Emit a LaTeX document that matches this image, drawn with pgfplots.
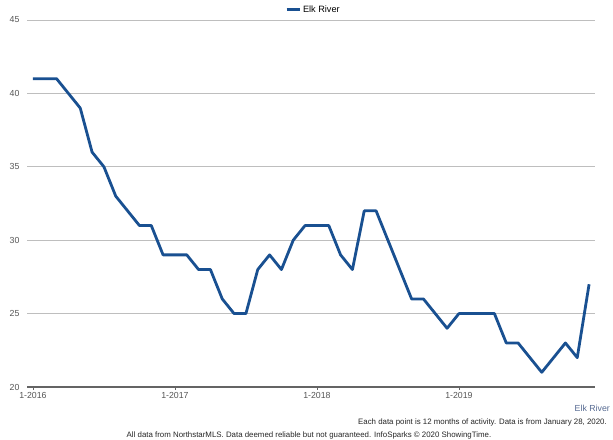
\documentclass[border=0pt]{standalone}
\usepackage{fontspec}
\setmainfont{Liberation Sans}
\usepackage{pgfplots}
\pgfplotsset{compat=1.18}
\definecolor{lineblue}{RGB}{25,80,145}
\definecolor{tickgray}{RGB}{85,85,85}
\definecolor{gridgray}{RGB}{190,190,190}
\definecolor{axisgray}{RGB}{100,100,100}
\definecolor{footblue}{RGB}{85,105,145}
\begin{document}
\begin{tikzpicture}[x=1bp,y=1bp]
\path[use as bounding box] (0,0) rectangle (613,440);
\begin{axis}[
  at={(27bp,53bp)}, anchor=south west,
  scale only axis, width=568bp, height=367bp,
  xmin=-0.5, xmax=47.5, ymin=20, ymax=45,
  axis x line*=bottom, axis y line*=left,
  x axis line style={draw=axisgray, line width=1.6bp, -},
  y axis line style={draw=none},
  xtick={0,12,24,36}, xticklabels={1-2016,1-2017,1-2018,1-2019},
  ytick={20,25,30,35,40,45},
  tick align=outside, major tick length=3bp,
  xtick style={draw=axisgray, line width=0.8bp},
  ytick style={draw=none},
  ymajorgrids, grid style={draw=gridgray, line width=0.8bp},
  ticklabel style={font=\fontsize{8.8}{10}\selectfont, text=tickgray},
  yticklabel style={xshift=-1bp},
  xticklabel style={yshift=1bp},
  /pgf/number format/assume math mode=true,
  legend style={at={(axis description cs:0.454,1.0286)}, anchor=west, draw=none, fill=none,
    font=\fontsize{9.2}{10}\selectfont, inner xsep=0pt, inner ysep=0pt},
  legend image code/.code={\draw[#1, line width=3bp] (0bp,0bp) -- (13bp,0bp);},
]
\addplot[color=lineblue, line width=2.8bp, line join=round] coordinates {
(0,41) (1,41) (2,41) (3,40) (4,39) (5,36) (6,35) (7,33) (8,32) (9,31) (10,31) (11,29)
(12,29) (13,29) (14,28) (15,28) (16,26) (17,25) (18,25) (19,28) (20,29) (21,28) (22,30) (23,31)
(24,31) (25,31) (26,29) (27,28) (28,32) (29,32) (30,30) (31,28) (32,26) (33,26) (34,25) (35,24)
(36,25) (37,25) (38,25) (39,25) (40,23) (41,23) (42,22) (43,21) (44,22) (45,23) (46,22) (47,27)
};
\addlegendentry{Elk River}
\end{axis}
\node[anchor=east, font=\fontsize{8.8}{10}\selectfont, text=footblue, inner sep=0pt] at (610,32) {Elk River};
\node[anchor=east, font=\fontsize{7.9}{9}\selectfont, text=black!85, inner sep=0pt] at (607,18) {Each data point is 12 months of activity. Data is from January 28, 2020.};
\node[anchor=center, font=\fontsize{7.9}{9}\selectfont, text=black!85, inner sep=0pt] at (309,4.5) {All data from NorthstarMLS. Data deemed reliable but not guaranteed. InfoSparks © 2020 ShowingTime.};
\end{tikzpicture}
\end{document}
